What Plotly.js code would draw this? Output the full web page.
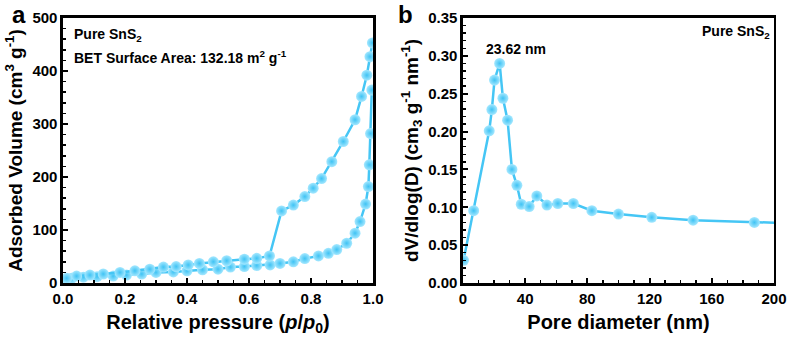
<!DOCTYPE html>
<html><head><meta charset="utf-8">
<script src="https://cdn.plot.ly/plotly-3.0.1.min.js"></script>
<style>html,body{margin:0;padding:0;background:#fff}#g{width:790px;height:342px}</style>
</head><body><div id="g"></div>
<script>
// Panel a: N2 isotherm
const adsP = [0.012,0.028,0.066,0.11,0.162,0.205,0.254,0.30,0.356,0.40,0.45,0.50,0.54,0.585,0.625,0.668,0.70,0.743,0.78,0.824,0.856,0.883,0.915,0.942,0.958,0.976,0.985,0.988,0.992,0.996];
const adsV = [5,9,11,12,13,15,17,20,21,23,25,26,30,31,33,34,37,40,46,51,56,63,75,94,116,149,182,223,282,364];
const desP = [0.998,0.99,0.98,0.963,0.942,0.904,0.867,0.834,0.807,0.78,0.743,0.705,0.666,0.625,0.585,0.528,0.485,0.44,0.404,0.365,0.324,0.28,0.232,0.184,0.13,0.087,0.044,0.012];
const desV = [453,427,392,352,308,267,229,197,179,163,147,136,51,46.5,45,42,40,37,34,31,30,26,23,20,17,15,13,9];
// Panel b: pore size distribution
const poreD = [0.4,6.9,16.9,18.6,20.3,23.6,25.7,28.7,31.5,34.7,37.5,42.6,47.5,54,61,71,82.9,100,121.4,148,187.4,240];
const poreV = [0.030,0.0955,0.201,0.229,0.268,0.290,0.244,0.215,0.150,0.129,0.104,0.101,0.115,0.103,0.105,0.105,0.0955,0.091,0.0867,0.083,0.080,0.077];

const blue = '#45C6F5';
const mk = {size:11, color:'#a6e8ff', gradient:{type:'radial', color:'#3fc3f4'}, line:{width:0}};
const ln = {color:blue, width:2.5};
const F = 'Liberation Sans, Arial, sans-serif';

const traces = [
  {x:adsP, y:adsV, xaxis:'x', yaxis:'y', mode:'lines+markers', line:ln, marker:mk},
  {x:desP, y:desV, xaxis:'x', yaxis:'y', mode:'lines+markers', line:ln, marker:mk},
  {x:poreD, y:poreV, xaxis:'x2', yaxis:'y2', mode:'lines+markers', line:ln, marker:mk}
];

const TF = {family:F, size:20, color:'#000', weight:'bold'};
const TFY = {family:F, size:19, color:'#000', weight:'bold'};
function ax(extra){
  return Object.assign({
    showline:true, mirror:true, linecolor:'#000', linewidth:2.5,
    ticks:'inside', ticklen:5, tickwidth:2, tickcolor:'#000',
    minor:{ticks:'inside', ticklen:3, tickwidth:1.5, tickcolor:'#000'},
    showgrid:false, zeroline:false,
    tickfont:{family:F, size:15, color:'#000', weight:'bold'}
  }, extra);
}

const layout = {
  width:790, height:342, margin:{l:0,r:0,t:0,b:0},
  paper_bgcolor:'#fff', plot_bgcolor:'#fff', showlegend:false,
  xaxis: ax({domain:[0.0797,0.4722], range:[0,1], dtick:0.2, tickformat:'.1f', anchor:'y',
    title:{text:'Relative pressure (<i>p</i>/<i>p</i><sub>0</sub>)', standoff:10, font:TF}}),
  yaxis: ax({domain:[0.1725,0.9474], range:[0,500], dtick:100, anchor:'x',
    title:{text:'Adsorbed Volume (cm<sup>3</sup> g<sup>-1</sup>)', standoff:5, font:TFY}}),
  xaxis2: ax({domain:[0.586,0.9797], range:[0,200], dtick:40, anchor:'y2',
    title:{text:'Pore diameter (nm)', standoff:10, font:TF}}),
  yaxis2: ax({domain:[0.1725,0.9474], range:[0,0.35], dtick:0.05, tickformat:'.2f', anchor:'x2',
    title:{text:'dV/dlog(D) (cm<sub>3</sub> g<sup>-1</sup> nm<sup>-1</sup>)', standoff:5, font:TFY}}),
  annotations:[
    {xref:'paper', yref:'paper', x:11/790, y:1, text:'a', showarrow:false, xanchor:'left', yanchor:'top', borderpad:0, font:{family:F,size:24,color:'#000',weight:'bold'}},
    {xref:'paper', yref:'paper', x:397/790, y:1, text:'b', showarrow:false, xanchor:'left', yanchor:'top', borderpad:0, font:{family:F,size:24,color:'#000',weight:'bold'}},
    {xref:'paper', yref:'paper', x:72/790, y:1-35/342, text:'Pure SnS<sub>2</sub>', showarrow:false, xanchor:'left', yanchor:'middle', font:{family:F,size:14,color:'#000',weight:'bold'}},
    {xref:'paper', yref:'paper', x:72/790, y:1-57/342, text:'BET Surface Area: 132.18 m<sup>2</sup> g<sup>-1</sup>', showarrow:false, xanchor:'left', yanchor:'middle', font:{family:F,size:14,color:'#000',weight:'bold'}},
    {xref:'paper', yref:'paper', x:772/790, y:1-32/342, text:'Pure SnS<sub>2</sub>', showarrow:false, xanchor:'right', yanchor:'middle', font:{family:F,size:14,color:'#000',weight:'bold'}},
    {xref:'x2', yref:'y2', x:34, y:0.309, text:'23.62 nm', showarrow:false, xanchor:'center', yanchor:'middle', font:{family:F,size:14,color:'#000',weight:'bold'}}
  ]
};
Plotly.newPlot('g', traces, layout, {staticPlot:true});
</script></body></html>
